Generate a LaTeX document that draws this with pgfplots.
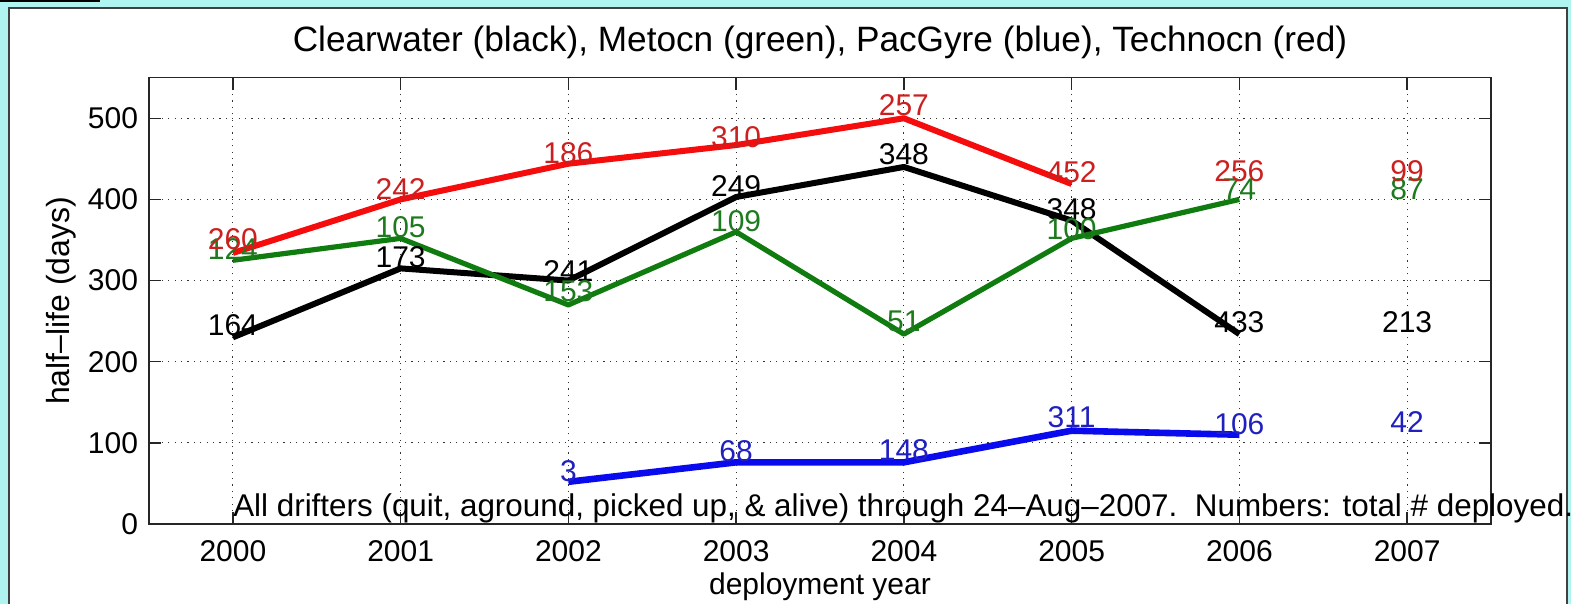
\documentclass[border=0pt]{standalone}
\usepackage{fontspec}
\setmainfont{Liberation Sans}
\usepackage{pgfplots}
\pgfplotsset{compat=1.18}
\definecolor{bgcyan}{HTML}{B0F4F2}
\definecolor{lred}{HTML}{F50C0C}
\definecolor{lgreen}{HTML}{107C10}
\definecolor{lblue}{HTML}{0A0AEE}
\definecolor{tred}{HTML}{CC1F1F}
\definecolor{tgreen}{HTML}{1E7A1E}
\definecolor{tblue}{HTML}{2020C0}
\begin{document}
\begin{tikzpicture}
\useasboundingbox (0,0) rectangle (785.5pt,302pt);
\fill[bgcyan] (0,0) rectangle (785.5pt,302pt);
\fill[black] (0,301pt) rectangle (50pt,302pt);
\filldraw[fill=white, draw=black!75, line width=1pt] (4.5pt,-5pt) rectangle (783.5pt,298pt);
\begin{axis}[
  at={(74.5pt,40pt)}, anchor=south west,
  scale only axis, width=671pt, height=223.15pt,
  xmin=1999.5, xmax=2007.5, ymin=0, ymax=550,
  xtick={2000,2001,2002,2003,2004,2005,2006,2007},
  ytick={0,100,200,300,400,500},
  /pgf/number format/1000 sep={},
  /pgf/number format/assume math mode=true,
  xtick pos=both, ytick pos=both,
  tick align=inside, major tick length=6pt,
  grid=major,
  major grid style={black!80, line width=0.6pt, dash pattern=on 0.6pt off 2.6pt},
  axis line style={black!85, line width=0.75pt},
  tick style={black!85, line width=0.75pt},
  tick label style={font=\fontsize{15}{18}\selectfont, inner sep=0pt},
  xticklabel style={yshift=-8.3pt},
  yticklabel style={xshift=-5.3pt},
  title={Clearwater (black), Metocn (green), PacGyre (blue), Technocn (red)},
  title style={font=\fontsize{17.6}{20}\selectfont, at={(axis description cs:0.5,1)}, anchor=base, yshift=7pt, inner sep=0pt},
  xlabel={deployment year},
  xlabel style={font=\fontsize{15}{18}\selectfont, at={(axis description cs:0.5,-0.1569)}, anchor=base, inner sep=0pt},
  ylabel={half–life (days)},
  ylabel style={font=\fontsize{16}{18}\selectfont, at={(axis description cs:-0.0537,0.5)}, anchor=south, rotate=0, inner sep=0pt},
  clip=false,
  every node near coord/.append style={anchor=south, inner sep=0pt, font=\fontsize{15}{18}\selectfont},
]
% lines
\addplot[black, line width=3pt, line join=round] coordinates {
(2000,230) (2001,315) (2002,300) (2003,403) (2004,440) (2005,374) (2006,234)};
\addplot[lred, line width=3pt, line join=round] coordinates {
(2000,334) (2001,400) (2002,444) (2003,467) (2004,500) (2005,419)};
\addplot[lblue, line width=3.3pt, line join=round] coordinates {
(2002,52) (2003,76) (2004,76) (2005,115) (2006,110)};
\addplot[lgreen, line width=2.6pt, line join=round] coordinates {
(2000,325) (2001,352) (2002,270) (2003,360) (2004,234) (2005,352) (2006,400)};
% labels: total number deployed
\addplot[draw=none, mark=none, nodes near coords, point meta=explicit symbolic,
  every node near coord/.append style={text=black}] table[meta=l] {
x y l
2000 232 164
2001 315 173
2002 298 241
2003 403 249
2004 442 348
2005 374 348
2006 235 433
2007 235 213
};
\addplot[draw=none, mark=none, nodes near coords, point meta=explicit symbolic,
  every node near coord/.append style={text=tgreen}] table[meta=l] {
x y l
2000 325 124
2001 352 105
2002 273 153
2003 360 109
2004 236 51
2005 350 100
2006 400 74
2007 399 87
};
\addplot[draw=none, mark=none, nodes near coords, point meta=explicit symbolic,
  every node near coord/.append style={text=tred}] table[meta=l] {
x y l
2000 338 260
2001 400 242
2002 444 186
2003 463 310
2004 503 257
2005 420 452
2006 421 256
2007 421 99
};
\addplot[draw=none, mark=none, nodes near coords, point meta=explicit symbolic,
  every node near coord/.append style={text=tblue}] table[meta=l] {
x y l
2002 52 3
2003 76 68
2004 77 148
2005 118 311
2006 110 106
2007 112 42
};
\node[anchor=base west, inner sep=0pt, font=\fontsize{15.7}{18}\selectfont] at (axis cs:2000,9)
  {All drifters (quit, aground, picked up, \& alive) through 24–Aug–2007.\ \ Numbers: total \# deployed.};
\end{axis}
\end{tikzpicture}
\end{document}
